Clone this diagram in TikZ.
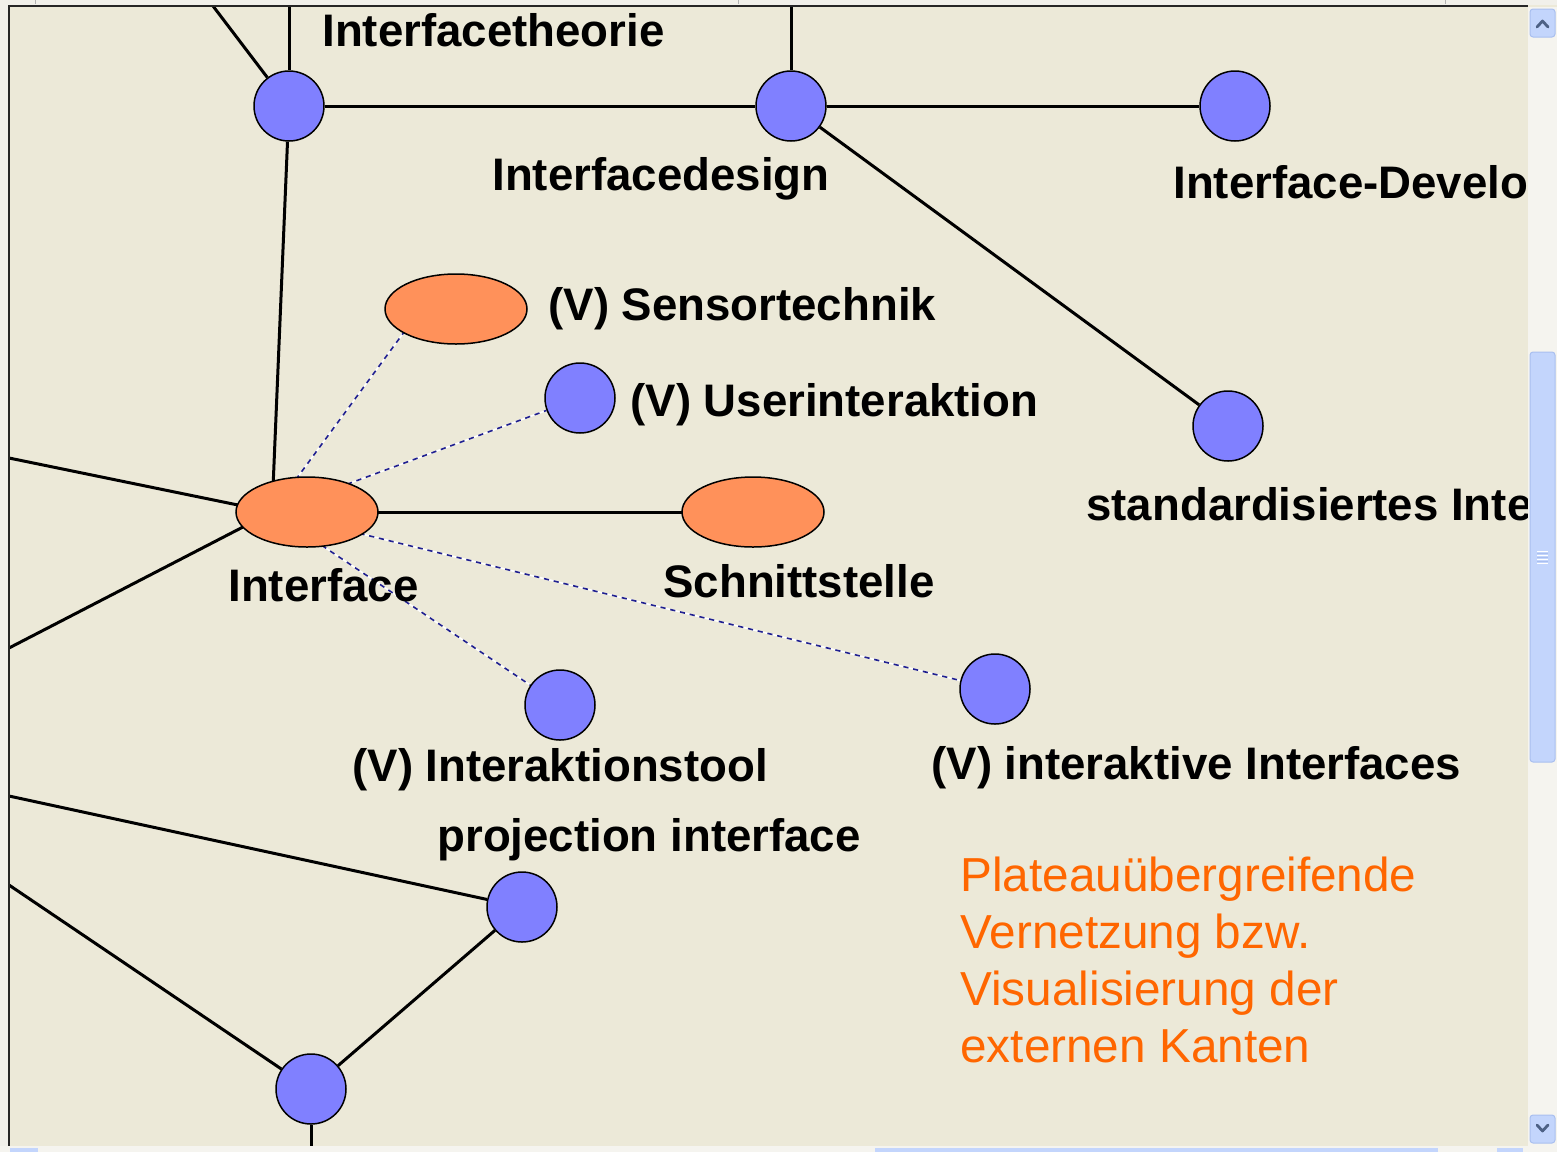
\documentclass[tikz,border=0pt]{standalone}
\usepackage{fontspec}
\setmainfont{Liberation Sans}
\usetikzlibrary{shapes.geometric}
\pgfdeclarelayer{background}
\pgfsetlayers{background,main}
\definecolor{bgbeige}{HTML}{ECE9D8}
\definecolor{nodeblue}{HTML}{8080FF}
\definecolor{nodeorange}{HTML}{FF915A}
\definecolor{txtorange}{HTML}{FF6600}
\definecolor{dashblue}{HTML}{20208F}
\definecolor{sbbg}{HTML}{F5F4EF}
\definecolor{sbthumb}{HTML}{C3D5FC}
\definecolor{sbedge}{HTML}{A9BFEF}
\definecolor{sbarrow}{HTML}{4D6185}
\definecolor{chrome}{HTML}{F1F0EA}
\begin{document}
\begin{tikzpicture}[x=0.5pt,y=-0.5pt,
  vnode/.style={circle, draw=black, line width=0.75pt, fill=nodeblue, minimum size=35pt, inner sep=0pt},
  onode/.style={ellipse, draw=black, line width=0.75pt, fill=nodeorange, minimum width=71pt, minimum height=35pt, inner sep=0pt},
  lbl/.style={anchor=base west, inner sep=0pt, font=\fontsize{22.8}{27}\selectfont\bfseries},
  otxt/.style={anchor=base west, inner sep=0pt, text=txtorange, font=\fontsize{23.85}{28.75}\selectfont},
  edge/.style={draw=black, line width=1.5pt},
  vedge/.style={draw=white, line width=0.8pt, postaction={draw=dashblue, line width=0.8pt, dash pattern=on 2.6pt off 2.4pt}},
  sbbox/.style={fill=sbthumb, draw=sbedge, line width=0.5pt, rounded corners=1.5pt},
  chev/.style={draw=sbarrow, line width=1.4pt, line cap=round, line join=round}]

\useasboundingbox (0,0) rectangle (1557,1152);

% nodes
\node[vnode] (A) at (289,106) {};
\node[vnode] (B) at (791,106) {};
\node[vnode] (C) at (1235,106) {};
\node[vnode] (D) at (1228,426) {};
\node[onode] (Ifc) at (307,512) {};
\coordinate (ic) at (272,512);
\node[onode] (Sens) at (456,309) {};
\coordinate (sc) at (421,309);
\node[vnode] (User) at (580,398) {};
\node[onode] (Schn) at (753,512) {};
\coordinate (schc) at (718,512);
\node[vnode] (Tool) at (560,705) {};
\node[vnode] (IntI) at (995,689) {};
\node[vnode] (Proj) at (522,907) {};
\node[vnode] (Bot) at (311,1089) {};

% free ends
\coordinate (tA) at (289,6);
\coordinate (tL) at (213,6);
\coordinate (tB) at (791,6);
\coordinate (l1) at (9,458);
\coordinate (l2) at (9,648);
\coordinate (l3) at (9,796);
\coordinate (l4) at (9,885);
\coordinate (bB) at (311,1146);

\begin{pgfonlayer}{background}
\fill[bgbeige] (0,0) rectangle (1557,1152);
\draw[edge] (tA) -- (A);
\draw[edge] (tL) -- (A);
\draw[edge] (tB) -- (B);
\draw[edge] (A) -- (B);
\draw[edge] (B) -- (C);
\draw[edge] (B) -- (D);
\draw[edge] (A) -- (ic);
\draw[edge] (l1) -- (ic);
\draw[edge] (l2) -- (ic);
\draw[edge] (ic) -- (schc);
\draw[edge] (l3) -- (Proj);
\draw[edge] (l4) -- (Bot);
\draw[edge] (Proj) -- (Bot);
\draw[edge] (Bot) -- (bB);
\draw[vedge] (ic) -- (sc);
\draw[vedge] (ic) -- (User);
\draw[vedge] (ic) -- (Tool);
\draw[vedge] (ic) -- (IntI);
\end{pgfonlayer}

% labels
\node[lbl] (tA1) at (322,46) {Interfacetheorie};
\node[lbl] (tB1) at (492,190) {Interfacedesign};
\node[lbl] (tC1) at (1173,198) {Interface-Develo};
\node[lbl] (tS1) at (548,320) {(V) Sensortechnik};
\node[lbl] (tU1) at (630,416) {(V) Userinteraktion};
\node[lbl] (tD1) at (1086,520) {standardisiertes Inte};
\node[lbl] (tI1) at (228,601) {Interface};
\node[lbl] (tN1) at (663,597) {Schnittstelle};
\node[lbl] (tT1) at (352,781) {(V) Interaktionstool};
\node[lbl] (tK1) at (931,779) {(V) interaktive Interfaces};
\node[lbl] (tP1) at (437,851) {projection interface};

\node[otxt] (o1) at (960,891) {Plateauübergreifende};
\node[otxt] (o2) at (960,948) {Vernetzung bzw.};
\node[otxt] (o3) at (960,1005) {Visualisierung der};
\node[otxt] (o4) at (960,1062) {externen Kanten};

% window chrome
\fill[chrome] (0,0) rectangle (1557,5);
\fill[chrome] (0,0) rectangle (8,1152);
\fill[sbbg] (0,1146) rectangle (1557,1152);
\draw[gray!60, line width=0.5pt] (35,0) -- (35,4) (738,0) -- (738,4) (1445,0) -- (1445,4);
\draw[black!85, line width=1pt] (8,6) -- (1528,6);
\draw[black!85, line width=1pt] (9,6) -- (9,1146);
\fill[sbthumb] (10,1148) rectangle (38,1152);
\fill[sbthumb] (875,1148) rectangle (1438,1152);
\fill[sbthumb] (1497,1148) rectangle (1523,1152);

% scrollbar
\fill[sbbg] (1528,7) rectangle (1557,1146);
\draw[sbbox] (1530,9) rectangle (1555,37);
\draw[chev] (1537,27) -- (1542.5,21) -- (1548,27);
\draw[sbbox] (1530,352) rectangle (1555,762);
\draw[white, line width=0.5pt] (1537,551) -- (1548,551) (1537,555) -- (1548,555) (1537,559) -- (1548,559) (1537,563) -- (1548,563);
\draw[sbedge, line width=0.4pt] (1537,553) -- (1548,553) (1537,557) -- (1548,557) (1537,561) -- (1548,561);
\draw[sbbox] (1530,1115) rectangle (1555,1143);
\draw[chev] (1537,1125) -- (1542.5,1131) -- (1548,1125);
\end{tikzpicture}
\end{document}
